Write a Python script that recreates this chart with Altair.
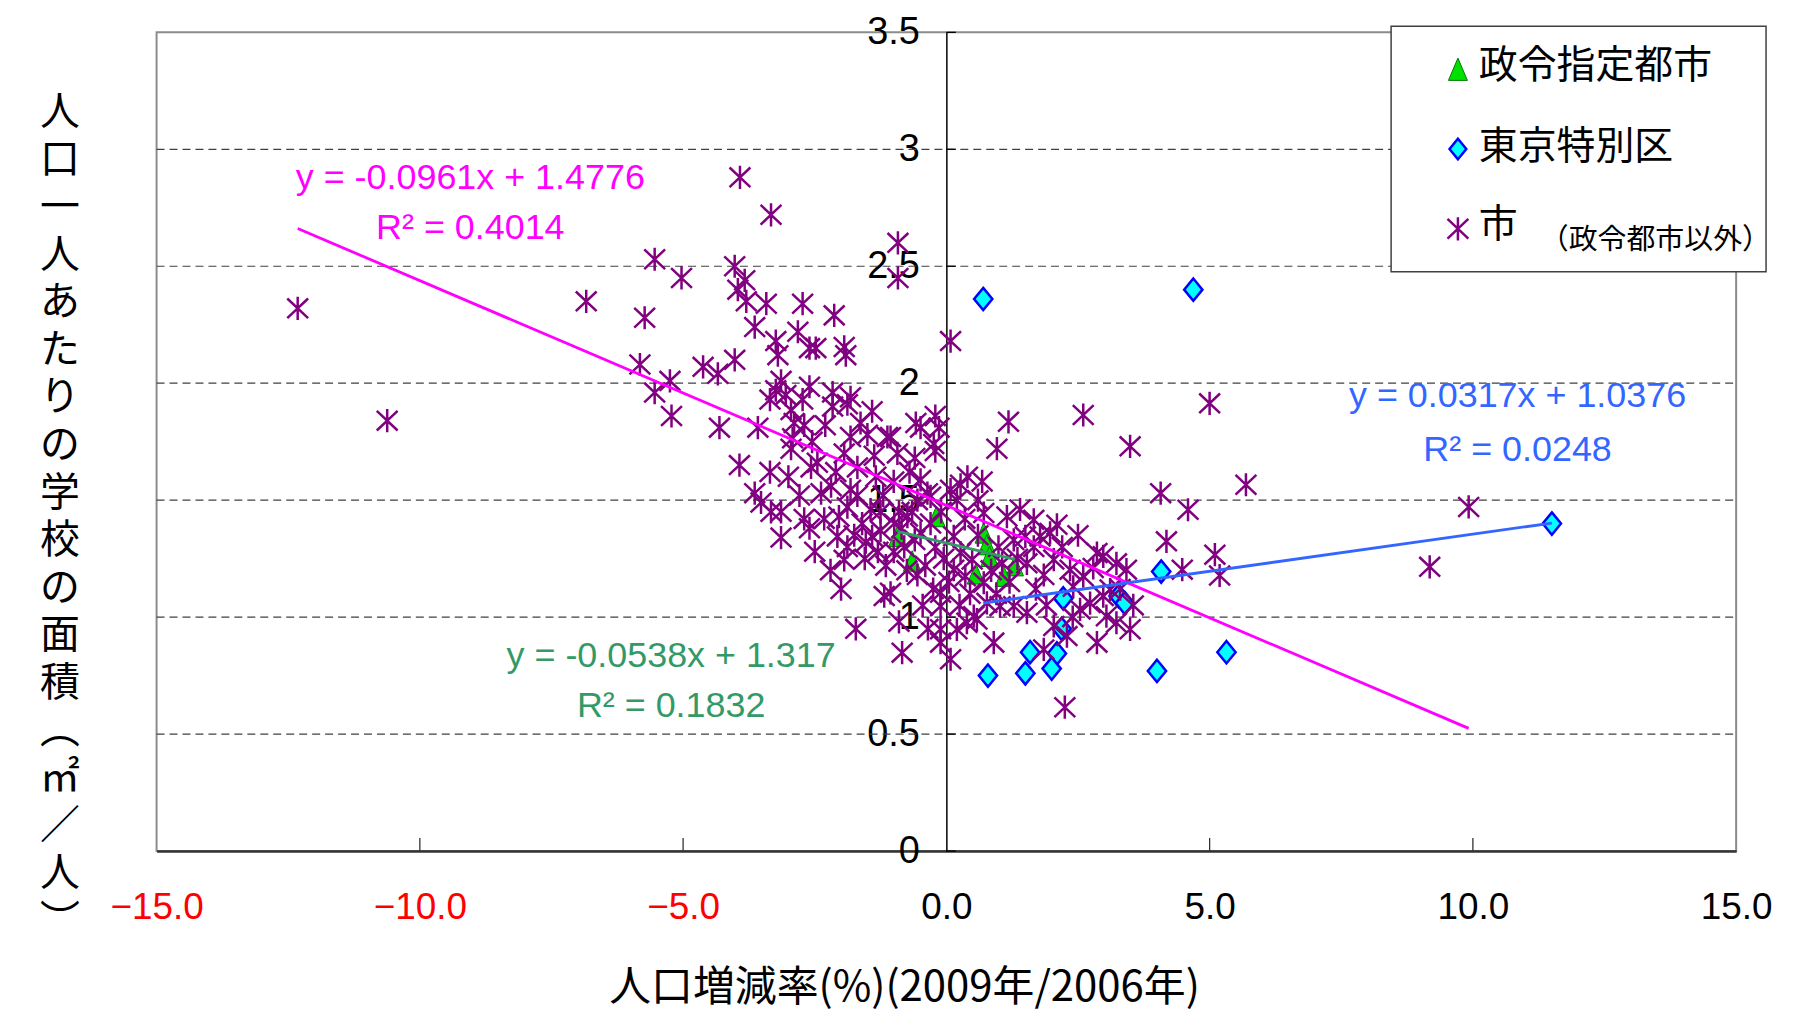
import altair as alt
import pandas as pd

# ---------------- data ----------------
CITY_X = [-12.32, -10.62, -6.84,
          -5.54, -5.03, -5.73, -5.82, -5.25, -5.54, -5.22,
          -4.62, -4.34, -4.31, -4.02,
          -3.92, -3.33,
          -4.02, -3.83, -3.96, -3.80, -3.42, -3.64,
          -2.73, -2.13, -2.82, -3.24, -3.20, -2.60, -2.48, -1.94, -1.91,
          -3.14, -3.24, -3.05, -3.35, -2.60, -2.16, -1.82,
          -3.93, -3.64, -3.52, -3.33, -3.14, -3.14, -2.79,
          -2.95, -2.73, -3.58, -2.89, -2.70, -2.95, -2.92,
          -2.57, -2.45, -2.16, -1.88, -1.41, -1.82, -1.63,
          -1.94, -1.37, -1.12, -1.69, -2.19, -2.38, -1.82,
          -2.32, -2.04, -1.88, -1.69, -1.44, -2.07, -1.88,
          -1.94, -1.53, -1.41, -1.25, -1.18, -1.72, -1.34,
          -0.92, -0.92, 0.08,
          -0.21, -0.14, -0.49, -0.24, -0.21, -0.93, -1.06, -0.58,
          1.18, 0.96, 2.60, 3.49,
          0.68, 0.27, -0.49, 4.07, 4.18,
          1.40, 1.15, 2.10, 0.71, 0.20, 0.08, -0.36, -0.55,
          -0.74, -0.99, -0.80, -0.49, -0.21, 0.14, 0.27, 0.14,
          0.36, 0.49, 0.71, 0.99, 1.06, 1.28, 1.50, 1.66,
          1.78, 1.97, 1.53, 1.85, 2.04, 2.35, 2.41, 2.60,
          2.79, 2.98, 3.23, 3.42, 2.73, 2.54, 2.98, 3.11,
          3.04, 3.23, 3.49, 2.86, 2.29, 1.85, 2.04, 1.53,
          1.28, 1.02, 0.77, 0.58, 0.39, 0.20, -0.11, -0.11,
          0.08, 0.90, -0.11, -0.11, -0.84, -1.06, 2.25, 1.66,
          2.86, -0.30, 0.52,
          5.00, 5.69, 4.59, 5.10, 5.19, 4.48, 9.92, 9.18,
          -1.60, -1.30, -1.15, -1.00, -0.85, -0.65, -0.60, -0.40,
          -0.30, -0.10, -0.05, 0.05, -0.25, -0.55, -0.90, -1.20,
          -1.00, -0.70, -1.55, -2.20, -2.50, -2.60, -2.00, -1.75,
          0.35, 0.45, 0.60, 0.85, 0.95, 1.20, 1.35, 1.70,
          2.20, 2.50, 3.30, 3.55, 2.40, 1.90, 0.60, 0.40,
          -0.60, -1.50, -2.30, -2.55, -3.00, -2.70, -3.35, -2.10,
          -1.25, -0.75, -0.45, 0.25, -0.90, -0.35]
CITY_Y = [2.32, 1.84, 2.35,
          2.53, 2.45, 2.28, 2.08, 2.01, 1.96, 1.86,
          2.07, 2.04, 1.81, 2.10,
          2.88, 2.72,
          2.50, 2.44, 2.40, 2.35, 2.34, 2.24,
          2.34, 2.29, 2.22, 2.18, 2.12, 2.15, 2.15, 2.155, 2.12,
          2.01, 1.97, 1.95, 1.93, 1.985, 1.96, 1.94,
          1.65, 1.53, 1.49, 1.45, 1.45, 1.34, 1.52,
          1.885, 1.93, 1.81, 1.83, 1.82, 1.72, 1.765,
          1.64, 1.66, 1.90, 1.91, 1.88, 1.77, 1.83,
          1.70, 1.69, 1.77, 1.64, 1.56, 1.53, 1.545,
          1.42, 1.43, 1.47, 1.52, 1.46, 1.345, 1.30,
          1.245, 1.32, 1.345, 1.37, 1.09, 0.95, 1.60,
          2.60, 2.45, 2.18,
          1.86, 1.81, 1.81, 1.74, 1.71, 1.70, 1.77, 1.83,
          1.835, 1.72, 1.864, 1.73,
          1.58, 1.566, 1.587, 1.53, 1.324,
          1.46, 1.43, 1.395, 1.445, 1.50, 1.545, 1.53, 1.50,
          1.43, 1.40, 1.30, 1.36, 1.30, 1.345, 1.275, 1.203,
          1.175, 1.246, 1.147, 1.30, 1.23, 1.33, 1.345, 1.30,
          1.345, 1.36, 1.23, 1.18, 1.246, 1.203, 1.13, 1.175,
          1.21, 1.26, 1.23, 1.203, 1.06, 1.033, 1.09, 1.118,
          1.004, 0.976, 0.948, 0.891, 0.919, 0.862, 0.962, 1.019,
          1.047, 1.047, 1.061, 0.99, 0.976, 0.948, 0.948, 0.891,
          0.82, 0.891, 1.104, 1.047, 0.848, 1.104, 0.615, 1.416,
          1.274, 1.516, 1.004,
          1.914, 1.566, 1.459, 1.267, 1.178, 1.203, 1.471, 1.215,
          1.40, 1.28, 1.22, 1.28, 1.38, 1.45, 1.33, 1.22,
          1.40, 1.45, 1.25, 1.15, 1.12, 1.18, 1.45, 1.52,
          1.58, 1.62, 1.25, 1.20, 1.28, 1.38, 1.12, 1.35,
          1.42, 1.10, 1.35, 1.20, 1.10, 1.15, 1.25, 1.12,
          1.30, 1.35, 1.12, 1.05, 1.00, 1.05, 1.50, 1.60,
          1.68, 1.78, 1.82, 1.75, 1.60, 1.42, 1.62, 1.62,
          1.45, 1.20, 1.05, 1.05, 0.98, 0.95]

WARD_X = [0.70, 4.69, 11.50, 4.08, 3.27, 3.39, 2.22, 2.19, 1.59, 2.10, 2.00, 1.50, 0.79, 4.00, 5.32]
WARD_Y = [2.36, 2.40, 1.40, 1.195, 1.09, 1.06, 1.08, 0.95, 0.85, 0.845, 0.78, 0.76, 0.75, 0.77, 0.85]

DESIG_X = [-0.93, -0.65, -0.19, 0.71, 0.77, 0.82, 1.30, 1.09, 0.56]
DESIG_Y = [1.345, 1.24, 1.43, 1.36, 1.31, 1.26, 1.22, 1.175, 1.185]

TREND_SERIES = ["市", "東京特別区", "政令指定都市"]
TREND_SLOPE = [-0.0961, 0.0317, -0.0538]
TREND_INTERCEPT = [1.4776, 1.0376, 1.317]
EQ_TEXT = ["y = -0.0961x + 1.4776", "y = 0.0317x + 1.0376", "y = -0.0538x + 1.317"]
R2_TEXT = ["R² = 0.4014", "R² = 0.0248", "R² = 0.1832"]

X_TICKS = [-15, -10, -5, 0, 5, 10, 15]
X_INNER_TICKS = [-10, -5, 5, 10]
Y_TICKS = [0, 0.5, 1, 1.5, 2, 2.5, 3, 3.5]
GRID_Y = [0.5, 1, 1.5, 2, 2.5, 3]

LEGEND_LABELS = ["政令指定都市", "東京特別区", "市"]
LEGEND_NOTE = "（政令都市以外）"
X_TITLE = "人口増減率(%)(2009年/2006年)"
Y_TITLE = ["人", "口", "一", "人", "あ", "た", "り", "の", "学", "校", "の", "面", "積",
           "︵", "㎡", "／", "人", "︶"]

# ---------------- styles ----------------
TREND_COLORS = ["#FF00FF", "#3366FF", "#339966"]
NUM_FONT = "Liberation Sans, Arial, sans-serif"
CJK_FONT = "Noto Sans CJK JP"
AST_PATH = "M-0.9,-0.85L0.9,0.85M0.9,-0.85L-0.9,0.85M0,-1L0,1"
TRI_PATH = "M0,-1L0.85,1L-0.85,1Z"
DIA_PATH = "M0,-1L0.82,0L0,1L-0.82,0Z"

W, H = 1584, 821

xs = alt.Scale(domain=[-15, 15], nice=False, zero=False)
ys = alt.Scale(domain=[0, 3.5], nice=False, zero=False)
x_axis = alt.Axis(values=X_TICKS, format=".1f", labelFont=NUM_FONT, labelFontSize=37,
                  labelColor={"expr": "datum.value < 0 ? '#FF0000' : '#000000'"},
                  labelPadding=39, labelFlush=False, labelOverlap=False,
                  ticks=False, tickSize=0, grid=False,
                  domainColor="#333333", domainWidth=2.5, title=None)
y_axis = alt.Axis(values=Y_TICKS, labelExpr="'' + datum.value", labelFont=NUM_FONT,
                  labelFontSize=38, labelColor="#000000", labelPadding=27,
                  labelFlush=False, labelOverlap=False, ticks=False, tickSize=0,
                  grid=False, domainColor="#000000", domainWidth=1.5,
                  offset=-W / 2, title=None)


def X(f="x"):
    return alt.X(f"{f}:Q", scale=xs, axis=x_axis)


def Y(f="y"):
    return alt.Y(f"{f}:Q", scale=ys, axis=y_axis)


one = pd.DataFrame({"t": [""]})


def text_layer(txt, px, py, size, color, font, align="center", baseline="middle"):
    return alt.Chart(pd.DataFrame({"t": [txt]})).mark_text(
        font=font, fontSize=size, color=color, align=align, baseline=baseline
    ).encode(text="t:N", x=alt.value(px), y=alt.value(py))


# grid lines
grid = alt.Chart(pd.DataFrame({"y": GRID_Y, "x": -15, "x2": 15})).mark_rule(
    color="#404040", strokeWidth=1.2, strokeDash=[8, 5]
).encode(x=X(), x2=alt.X2("x2"), y=Y())

# inner ticks
xt = alt.Chart(pd.DataFrame({"x": X_INNER_TICKS, "y": 0.0, "y2": 0.056})).mark_rule(
    color="#333333", strokeWidth=1.3
).encode(x=X(), y=Y(), y2=alt.Y2("y2"))
yt = alt.Chart(pd.DataFrame({"y": Y_TICKS, "x": 0.0, "x2": 0.18})).mark_rule(
    color="#000000", strokeWidth=1.3
).encode(x=X(), x2=alt.X2("x2"), y=Y())

# points
desig = alt.Chart(pd.DataFrame({"x": DESIG_X, "y": DESIG_Y})).mark_point(
    shape=TRI_PATH, filled=True, fill="#00E000", stroke="#007A00", strokeWidth=1,
    size=420, opacity=1
).encode(x=X(), y=Y())
wards = alt.Chart(pd.DataFrame({"x": WARD_X, "y": WARD_Y})).mark_point(
    shape=DIA_PATH, filled=True, fill="#00FFFF", stroke="#0000FF", strokeWidth=2.5,
    size=500, opacity=1
).encode(x=X(), y=Y())
cities = alt.Chart(pd.DataFrame({"x": CITY_X, "y": CITY_Y})).mark_point(
    shape=AST_PATH, filled=False, color="#800080", strokeWidth=2.5, size=540, opacity=1
).encode(x=X(), y=Y())

# trend lines over each series' x range
ranges = [(min(CITY_X), max(CITY_X)), (min(WARD_X), max(WARD_X)), (min(DESIG_X), max(DESIG_X))]
rows = []
for s, m, b, (lo, hi) in zip(TREND_SERIES, TREND_SLOPE, TREND_INTERCEPT, ranges):
    rows.append({"series": s, "slope": m, "intercept": b, "x": lo})
    rows.append({"series": s, "slope": m, "intercept": b, "x": hi})
trend = alt.Chart(pd.DataFrame(rows)).transform_calculate(
    y="datum.slope * datum.x + datum.intercept"
).mark_line(strokeWidth=2.8).encode(
    x=X(), y=Y(),
    color=alt.Color("series:N", scale=alt.Scale(domain=TREND_SERIES, range=TREND_COLORS), legend=None),
    detail="series:N",
)

# equation labels
eq_pos = [(314.6, 146.3, 196.7), (1364.8, 364.8, 418.6), (516.0, 625.7, 676.0)]
eq_layers = []
for (px, py1, py2), e, r, c in zip(eq_pos, EQ_TEXT, R2_TEXT, TREND_COLORS):
    eq_layers.append(text_layer(e, px, py1, 36, c, NUM_FONT))
    eq_layers.append(text_layer(r, px, py2, 36, c, NUM_FONT))

# legend
leg_box = alt.Chart(one).mark_rect(fill="white", stroke="#404040", strokeWidth=1.5).encode(
    x=alt.value(1238), x2=alt.value(1614), y=alt.value(-6), y2=alt.value(240)
)
leg_tri = alt.Chart(one).mark_point(shape=TRI_PATH, filled=True, fill="#00E000", stroke="#007A00",
                                    strokeWidth=1, size=500, opacity=1).encode(
    x=alt.value(1305), y=alt.value(37))
leg_dia = alt.Chart(one).mark_point(shape=DIA_PATH, filled=True, fill="#00FFFF", stroke="#0000FF",
                                    strokeWidth=2.5, size=420, opacity=1).encode(
    x=alt.value(1305), y=alt.value(117))
leg_ast = alt.Chart(one).mark_point(shape=AST_PATH, filled=False, color="#800080",
                                    strokeWidth=2.5, size=540, opacity=1).encode(
    x=alt.value(1305), y=alt.value(197))
leg_t1 = text_layer(LEGEND_LABELS[0], 1326, 34, 39, "#000000", CJK_FONT, align="left")
leg_t2 = text_layer(LEGEND_LABELS[1], 1326, 115, 39, "#000000", CJK_FONT, align="left")
leg_t3 = text_layer(LEGEND_LABELS[2], 1326, 193, 39, "#000000", CJK_FONT, align="left")
leg_note = text_layer(LEGEND_NOTE, 1503, 208, 29, "#000000", CJK_FONT)

# axis titles
x_title = text_layer(X_TITLE, 750, 958, 42, "#000000", CJK_FONT)
y_title = alt.Chart(one).mark_text(
    text=Y_TITLE, font=CJK_FONT, fontSize=40, lineHeight=47.7, color="#000000",
    align="center", baseline="top"
).encode(x=alt.value(-97), y=alt.value(61))

chart = alt.layer(
    grid, xt, yt, desig, wards, cities, trend, *eq_layers,
    leg_box, leg_tri, leg_dia, leg_ast, leg_t1, leg_t2, leg_t3, leg_note,
    x_title, y_title,
).properties(
    width=W, height=H,
    autosize=alt.AutoSizeParams(type="none"),
    padding={"left": 149, "top": 23, "right": 50, "bottom": 160},
    background="white",
).configure_view(stroke="#8C8C8C", strokeWidth=2)

chart.save("out.html", embed_options={"renderer": "svg", "actions": False})
